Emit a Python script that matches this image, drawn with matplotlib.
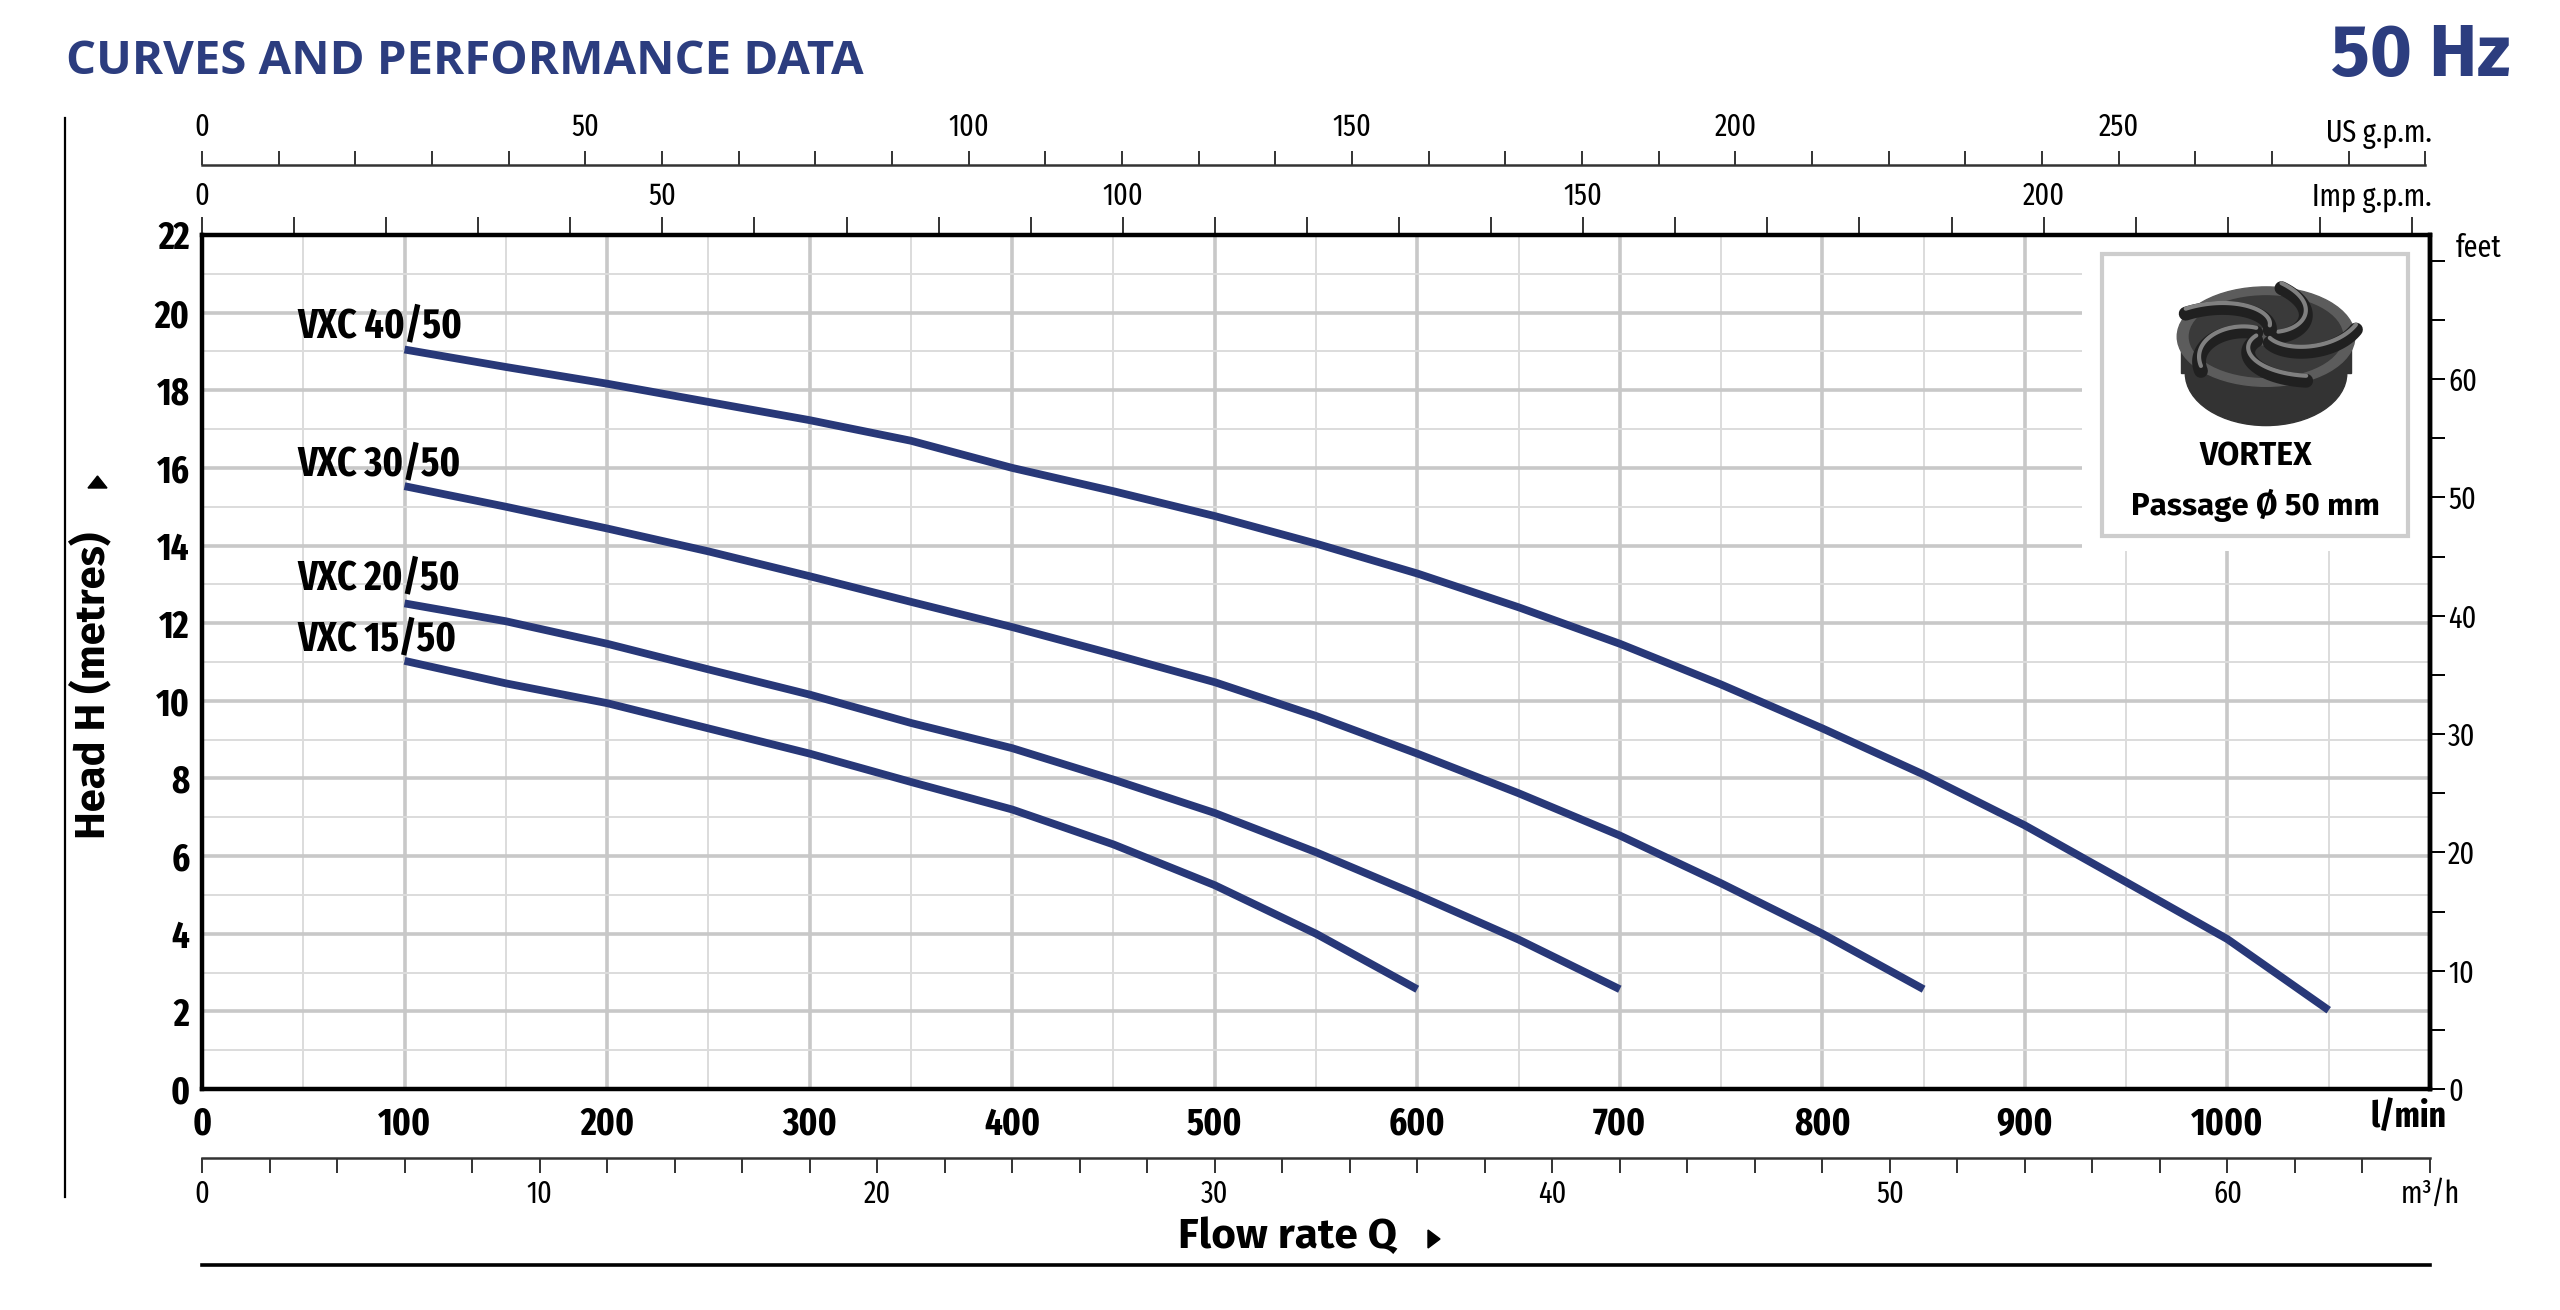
import numpy as np
import matplotlib
matplotlib.use("Agg")
import matplotlib.pyplot as plt
from matplotlib.patches import Rectangle, Ellipse, Polygon
from matplotlib.ticker import MultipleLocator, FixedLocator

# ---- data (flow in l/min, head in metres) ----
q_40 = [100, 150, 200, 250, 300, 350, 400, 450, 500, 550, 600, 650, 700, 750, 800, 850, 900, 950, 1000, 1050]
h_40 = [19.05, 18.6, 18.17, 17.7, 17.23, 16.7, 16.0, 15.4, 14.76, 14.05, 13.28, 12.41, 11.47, 10.42, 9.29, 8.1, 6.79, 5.33, 3.86, 2.03]

q_30 = [100, 150, 200, 250, 300, 350, 400, 450, 500, 550, 600, 650, 700, 750, 800, 850]
h_30 = [15.53, 15.0, 14.44, 13.85, 13.21, 12.55, 11.9, 11.2, 10.48, 9.61, 8.64, 7.62, 6.53, 5.3, 4.0, 2.57]

q_20 = [100, 150, 200, 250, 300, 350, 400, 450, 500, 550, 600, 650, 700]
h_20 = [12.51, 12.05, 11.47, 10.81, 10.16, 9.43, 8.78, 7.97, 7.11, 6.1, 5.0, 3.85, 2.57]

q_15 = [100, 150, 200, 250, 300, 350, 400, 450, 500, 550, 600]
h_15 = [11.03, 10.45, 9.94, 9.29, 8.64, 7.91, 7.2, 6.3, 5.25, 4.0, 2.57]

models = ["VXC 40/50", "VXC 30/50", "VXC 20/50", "VXC 15/50"]
label_y = [19.65, 16.1, 13.15, 11.6]

lmin_ticks = [0, 100, 200, 300, 400, 500, 600, 700, 800, 900, 1000]
head_ticks = [0, 2, 4, 6, 8, 10, 12, 14, 16, 18, 20, 22]
feet_ticks = [0, 10, 20, 30, 40, 50, 60, 70]
feet_labels = ["0", "10", "20", "30", "40", "50", "60", ""]
m3h_ticks = [0, 10, 20, 30, 40, 50, 60, 66]
m3h_labels = ["0", "10", "20", "30", "40", "50", "60", "m³/h"]
imp_ticks = [0, 50, 100, 150, 200]
us_ticks = [0, 50, 100, 150, 200, 250]

NAVY = "#283878"
TITLE = "#2c3d7f"
W, H = 2560, 1310

COND = ["Fira Sans Extra Condensed", "DejaVu Sans"]
PLAIN = ["Fira Sans", "DejaVu Sans"]
WIDE = ["Open Sans", "DejaVu Sans"]


def fx(x):
    return x / W


def fy(y):
    return 1 - y / H


fig = plt.figure(figsize=(25.6, 13.1), dpi=100)

left, right, top, bottom = 202, 2430, 235, 1089
ax = fig.add_axes([fx(left), fy(bottom), (right - left) / W, (bottom - top) / H])
ax.set_xlim(0, 1100)
ax.set_ylim(0, 22)

ax.xaxis.set_minor_locator(MultipleLocator(50))
ax.yaxis.set_minor_locator(MultipleLocator(1))
ax.set_xticks(lmin_ticks + [1100], labels=[str(v) for v in lmin_ticks] + [""])
ax.set_yticks(head_ticks)
ax.set_axisbelow(True)
ax.grid(which="major", color="#c8c8c8", lw=2.6)
ax.grid(which="minor", color="#dcdcdc", lw=1.4)
ax.tick_params(which="both", length=0)
ax.tick_params(axis="x", pad=12)
ax.tick_params(axis="y", pad=9)
for lab in ax.get_xticklabels() + ax.get_yticklabels():
    lab.set_family(COND)
    lab.set_fontweight("bold")
    lab.set_fontsize(27)
for s in ax.spines.values():
    s.set_linewidth(3.2)

# curves
for q, h in [(q_40, h_40), (q_30, h_30), (q_20, h_20), (q_15, h_15)]:
    ax.plot(q, h, color=NAVY, lw=5.6, solid_capstyle="butt", solid_joinstyle="round", zorder=4)
for name, yy in zip(models, label_y):
    ax.text(47, yy, name, family=COND, fontweight="bold", fontsize=29.5, va="center", ha="left", zorder=5)

# vortex box
ax.add_patch(Rectangle((928, 13.85), 180, 9, facecolor="white", edgecolor="none", zorder=1))
ax.add_patch(Rectangle((938, 14.25), 151, 7.25, facecolor="white", edgecolor="#cdcdcd", lw=3, zorder=2))
ax.text(1014, 16.29, "VORTEX", family=PLAIN, fontweight="bold", fontsize=23, ha="center", va="center", zorder=5)
ax.text(1014, 15.03, "Passage Ø 50 mm", family=PLAIN, fontweight="bold", fontsize=22.5, ha="center", va="center", zorder=5)

# impeller sketch
imp = fig.add_axes([fx(2150), fy(436), 222 / W, 164 / H])
imp.set_xlim(-1.1, 1.1)
imp.set_ylim(-0.85, 0.8)
imp.axis("off")
imp.add_patch(Ellipse((0.05, -0.22), 1.6, 1.05, color="#333333"))
imp.add_patch(Rectangle((-0.79, -0.22), 1.68, 0.37, color="#333333"))
imp.add_patch(Ellipse((0.05, 0.15), 1.76, 1.0, color="#5c5c5c"))
imp.add_patch(Ellipse((0.05, 0.15), 1.52, 0.82, color="#3a3a3a"))
t = np.linspace(0, 1, 40)
for k in range(5):
    a0 = k * 2 * np.pi / 5
    r = 0.12 + 0.78 * t
    a = a0 + 1.4 * t
    xs = 0.05 + r * np.cos(a)
    ys = 0.15 + 0.55 * r * np.sin(a)
    imp.plot(xs, ys, color="#202020", lw=10, solid_capstyle="round")
    imp.plot(xs, ys + 0.05, color="#808080", lw=3, solid_capstyle="round")
imp.add_patch(Ellipse((0.05, 0.15), 0.28, 0.17, color="#5a5a5a"))

# right axis: feet
axr = ax.twinx()
axr.set_ylim(0, 22 * 3.28084)
axr.set_yticks(feet_ticks, labels=feet_labels)
axr.yaxis.set_minor_locator(MultipleLocator(5))
axr.tick_params(which="both", direction="out", length=11, width=1.4, pad=2, labelsize=22)
for lab in axr.get_yticklabels():
    lab.set_family(COND)
for s in axr.spines.values():
    s.set_visible(False)
axr.spines["right"].set_visible(True)
axr.spines["right"].set_linewidth(3.2)

# top axis: Imp g.p.m.
imp_ax = ax.secondary_xaxis("top", functions=(lambda q: q / 4.54609, lambda g: g * 4.54609))
imp_ax.set_xticks(imp_ticks)
imp_ax.xaxis.set_minor_locator(MultipleLocator(10))
imp_ax.tick_params(which="both", direction="out", length=13, width=1.4, pad=4, labelsize=22, color="#333333")
imp_ax.spines["top"].set_visible(False)
for lab in imp_ax.get_xticklabels():
    lab.set_family(COND)

# upper axis: US g.p.m.
us_ax = ax.secondary_xaxis(1 + (top - 165) / (bottom - top), functions=(lambda q: q / 3.78541, lambda g: g * 3.78541))
us_ax.set_xticks(us_ticks)
us_ax.xaxis.set_minor_locator(FixedLocator(np.arange(0, 291, 10)))
us_ax.tick_params(which="both", direction="out", length=10, width=1.4, pad=6, labelsize=22, color="#333333")
us_ax.spines["top"].set_linewidth(1.8)
us_ax.spines["top"].set_color("#333333")
us_ax.spines["top"].set_bounds(0, 290)
for lab in us_ax.get_xticklabels():
    lab.set_family(COND)

# lower axis: m3/h
m3_ax = ax.secondary_xaxis(-(1158 - bottom) / (bottom - top), functions=(lambda q: q * 0.06, lambda m: m / 0.06))
m3_ax.set_xticks(m3h_ticks, labels=m3h_labels)
m3_ax.xaxis.set_minor_locator(MultipleLocator(2))
m3_ax.tick_params(which="both", direction="out", length=11, width=1.4, pad=4, labelsize=22, color="#333333")
m3_ax.spines["bottom"].set_linewidth(1.8)
m3_ax.spines["bottom"].set_color("#333333")
for lab in m3_ax.get_xticklabels():
    lab.set_family(COND)

# unit captions
fig.text(fx(2432), fy(134), "US g.p.m.", family=COND, fontsize=22, ha="right", va="center")
fig.text(fx(2432), fy(198), "Imp g.p.m.", family=COND, fontsize=22, ha="right", va="center")
fig.text(fx(2456), fy(248), "feet", family=COND, fontsize=22, ha="left", va="center")
fig.text(fx(2408), fy(1117), "l/min", family=COND, fontsize=26, fontweight="bold", ha="center", va="center")

# titles
fig.text(fx(66), fy(62), "CURVES AND PERFORMANCE DATA", family=WIDE, fontweight="bold",
         fontsize=34, color=TITLE, ha="left", va="center")
fig.text(fx(2510), fy(56), "50 Hz", family=PLAIN, fontweight="bold", fontsize=52,
         color=TITLE, ha="right", va="center")

# axis titles with arrow marks
fig.text(fx(92), fy(685), "Head H (metres)", family=PLAIN, fontweight="bold", fontsize=30,
         rotation=90, ha="center", va="center")
fig.add_artist(Polygon([(fx(88), fy(488)), (fx(107), fy(488)), (fx(97.5), fy(476))],
                       closed=True, color="black", transform=fig.transFigure))
fig.text(fx(1287), fy(1237), "Flow rate Q", family=PLAIN, fontweight="bold", fontsize=30.5,
         ha="center", va="center")
fig.add_artist(Polygon([(fx(1428), fy(1230)), (fx(1428), fy(1248)), (fx(1440), fy(1239))],
                       closed=True, color="black", transform=fig.transFigure))

# frame lines
fig.add_artist(plt.Line2D([fx(65), fx(65)], [fy(118), fy(1197)], color="black", lw=1.6))
fig.add_artist(plt.Line2D([fx(202), fx(2430)], [fy(1265), fy(1265)], color="black", lw=2.6))

fig.savefig("out.png", dpi=100)
